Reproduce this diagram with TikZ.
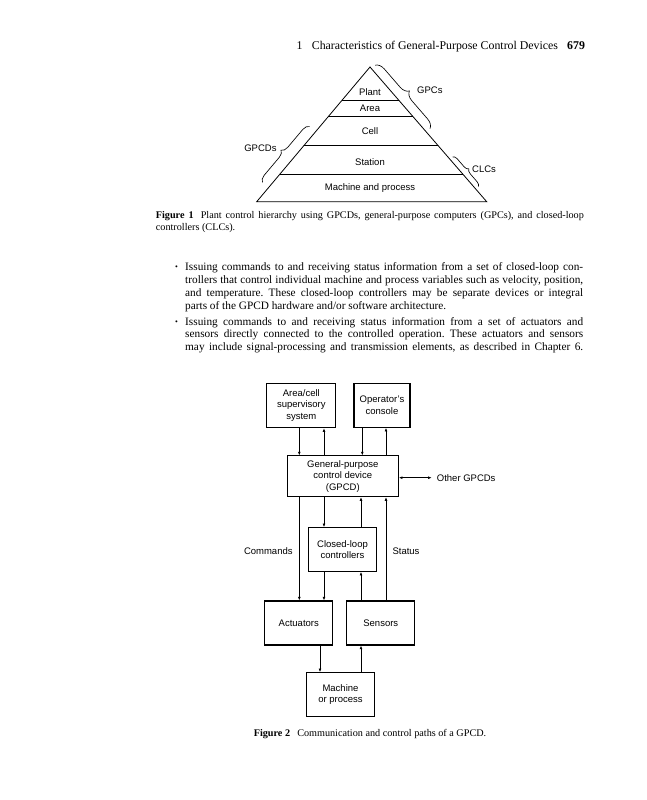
\documentclass[tikz,border=0pt]{standalone}
\usepackage{fontspec}
\setmainfont{Liberation Serif}
\setsansfont{Liberation Sans}
\usetikzlibrary{arrows.meta,calc,decorations.pathreplacing}
\newcommand{\jusline}[2]{\makebox[#1][s]{#2}}
\frenchspacing
\begin{document}
\begin{tikzpicture}[x=1pt,y=-1pt,
  hdr/.style={font=\fontsize{11.85}{13}\selectfont, anchor=base west, inner sep=0pt},
  bodytext/.style={font=\fontsize{11.3}{13}\selectfont, anchor=base west, inner sep=0pt},
  captext/.style={font=\fontsize{10.2}{11.7}\selectfont, anchor=base west, inner sep=0pt},
  lbl/.style={font=\sffamily\fontsize{9.5}{11.5}\selectfont, inner sep=0pt},
  pyr/.style={line width=0.8pt},
  blk/.style={draw, line width=1.05pt, align=center, inner sep=1pt, font=\sffamily\fontsize{9.5}{11.5}\selectfont},
  mytip/.tip={Latex[length=3.6pt,width=2.8pt]},
  arr/.style={line width=0.65pt, -mytip},
  brc/.style={decorate, decoration={brace, amplitude=#1}, line width=0.65pt},
]
\fill[white] (0,0) rectangle (647,800);
\useasboundingbox (0,0) rectangle (647,800);

% running head
\node[hdr] (hnum) at (296.5,49) {1};
\node[hdr] (htitle) at (311.7,49) {Characteristics of General-Purpose Control Devices};
\node[hdr] (hpage) at (567,49) {\bfseries 679};

% Figure 1: pyramid
\coordinate (A) at (370,67);
\coordinate (BL) at (256.7,201.7);
\coordinate (BR) at (486.7,201.7);
\draw[pyr, line join=miter] (A) -- (BL) -- (BR) -- cycle;
\foreach \t in {0.245,0.369,0.584,0.794}
  \draw[pyr] ($(A)!\t!(BL)$) -- ($(A)!\t!(BR)$);
\node[lbl, anchor=base] (plant) at (370,95) {Plant};
\node[lbl, anchor=base] (areal) at (370,111.7) {Area};
\node[lbl, anchor=base] (cell) at (370,134.4) {Cell};
\node[lbl, anchor=base] (station) at (370,165) {Station};
\node[lbl, anchor=base] (machl) at (370,190.7) {Machine and process};

\draw[brc=9pt] (375.1,65.2) -- (430.1,128.7);
\draw[brc=4.5pt] (452.6,156.9) -- (478.4,186.7);
\draw[brc=6.5pt] (262.5,182.3) -- (309.6,126.4);
\node[lbl, anchor=west] (gpcs) at (417,90) {GPCs};
\node[lbl, anchor=east] (gpcds) at (276.7,148.3) {GPCDs};
\node[lbl, anchor=west] (clcs) at (472,169) {CLCs};

% caption 1
\node[captext] (c1a) at (155.7,218.5) {\jusline{428pt}{\textbf{Figure 1}\hspace{0.7em}Plant control hierarchy using GPCDs, general-purpose computers (GPCs), and closed-loop}};
\node[captext] (c1b) at (155.7,230.2) {controllers (CLCs).};

% body text
\node[bodytext] (bul1) at (175,269) {\fontsize{8}{8}\selectfont\textbullet};
\node[bodytext] (l1) at (185,270) {\jusline{398pt}{Issuing commands to and receiving status information from a set of closed-loop con-}};
\node[bodytext] (l2) at (185,283.2) {\jusline{398pt}{trollers that control individual machine and process variables such as velocity, position,}};
\node[bodytext] (l3) at (185,296.4) {\jusline{398pt}{and temperature. These closed-loop controllers may be separate devices or integral}};
\node[bodytext] (l4) at (185,309.6) {parts of the GPCD hardware and/or software architecture.};
\node[bodytext] (bul2) at (175,324) {\fontsize{8}{8}\selectfont\textbullet};
\node[bodytext] (l5) at (185,325) {\jusline{398pt}{Issuing commands to and receiving status information from a set of actuators and}};
\node[bodytext] (l6) at (185,337.8) {\jusline{398pt}{sensors directly connected to the controlled operation. These actuators and sensors}};
\node[bodytext] (l7) at (185,350.5) {\jusline{398pt}{may include signal-processing and transmission elements, as described in Chapter 6.}};

% Figure 2: block diagram
\node[blk, minimum width=69.3pt, minimum height=44.4pt] (area) at (301.3,405.5) {Area/cell\\supervisory\\system};
\node[blk, minimum width=56pt, minimum height=44pt] (op) at (382,405.3) {Operator's\\console};
\node[blk, minimum width=111pt, minimum height=40.7pt] (gpcd) at (342.8,476.3) {General-purpose\\control device\\(GPCD)};
\node[blk, minimum width=68.4pt, minimum height=43.6pt] (clc) at (342.5,549.5) {Closed-loop\\controllers};
\node[blk, minimum width=67.7pt, minimum height=44pt] (act) at (298.8,623) {Actuators};
\node[blk, minimum width=68.3pt, minimum height=44pt] (sen) at (380.8,623) {Sensors};
\node[blk, minimum width=67.6pt, minimum height=44pt] (mach) at (340.5,694.7) {Machine\\or process};

\coordinate (x1) at (299.3,0);
\coordinate (x2) at (324,0);
\coordinate (x3) at (362.3,0);
\coordinate (x4) at (386,0);
\coordinate (x5) at (361,0);
\coordinate (x6) at (320,0);

\draw[arr] (area.south -| x1) -- (gpcd.north -| x1);
\draw[arr] (gpcd.north -| x2) -- (area.south -| x2);
\draw[arr] (op.south -| x3) -- (gpcd.north -| x3);
\draw[arr] (gpcd.north -| x4) -- (op.south -| x4);

\draw[arr] (gpcd.south -| x1) -- (act.north -| x1);
\draw[arr] (gpcd.south -| x2) -- (clc.north -| x2);
\draw[arr] (clc.north -| x5) -- (gpcd.south -| x5);
\draw[arr] (sen.north -| x4) -- (gpcd.south -| x4);
\draw[arr] (clc.south -| x2) -- (act.north -| x2);
\draw[arr] (sen.north -| x5) -- (clc.south -| x5);
\draw[arr] (act.south -| x6) -- (mach.north -| x6);
\draw[arr] (mach.north -| x5) -- (sen.south -| x5);

\coordinate (og) at (431.7,477.7);
\draw[line width=0.65pt, mytip-mytip] (gpcd.east |- og) -- (og);
\node[lbl, anchor=west] (other) at (436.7,477.7) {Other GPCDs};
\node[lbl] (cmd) at (268.3,551) {Commands};
\node[lbl] (stat) at (406,551) {Status};

% caption 2
\node[captext, anchor=base] (c2) at (370,736.8) {\textbf{Figure 2}\hspace{0.7em}Communication and control paths of a GPCD.};
\end{tikzpicture}
\end{document}
